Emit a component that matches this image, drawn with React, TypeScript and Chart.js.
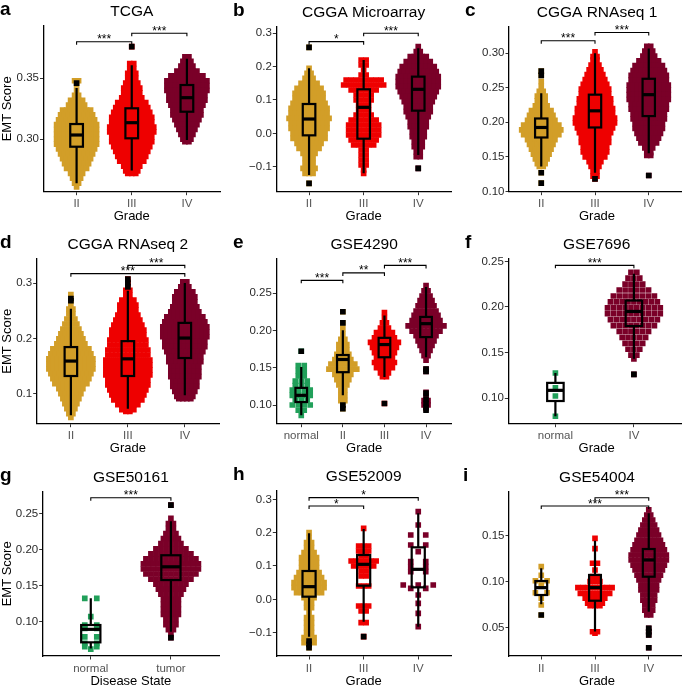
import React, { useEffect, useRef } from "react";
import { Chart, registerables } from "chart.js";

Chart.register(...registerables);

const FONT = "'Liberation Sans', Arial, Helvetica, sans-serif";
Chart.defaults.font.family = FONT;

const GOLD = "#D29E28";
const RED = "#EE0000";
const MAROON = "#7A0028";
const GREEN = "#21A05A";

type Row = [number, number]; // [score, number of points in that swarm row]
type Box = [number, number, number, number, number]; // whisker low, q1, median, q3, whisker high
type Bracket = [number, number, number, string]; // from category, to category, height, label

// ---------- a: TCGA ----------
const tcgaCats = ["II", "III", "IV"];
const tcgaTicks = [0.3, 0.35];
const tcgaII: Row[] = [[0.348,2],[0.3445,1],[0.340,1],[0.336,2],[0.332,4],[0.328,5],[0.324,8],[0.320,9],[0.316,10],[0.312,11],[0.308,11],[0.304,11],[0.300,11],[0.296,11],[0.292,10],[0.288,9],[0.284,8],[0.280,7],[0.276,6],[0.272,4],[0.268,3],[0.264,2],[0.261,1]];
const tcgaIII: Row[] = [[0.376,1],[0.362,2],[0.358,2],[0.354,3],[0.350,3],[0.346,4],[0.342,5],[0.338,5],[0.334,6],[0.330,8],[0.326,9],[0.322,10],[0.318,11],[0.314,11],[0.310,12],[0.306,12],[0.302,11],[0.298,11],[0.294,10],[0.290,9],[0.286,8],[0.282,7],[0.278,5],[0.274,4],[0.272,3]];
const tcgaIV: Row[] = [[0.3677,2],[0.364,3],[0.360,4],[0.356,6],[0.352,9],[0.348,11],[0.344,11],[0.340,11],[0.336,10],[0.332,10],[0.328,9],[0.324,8],[0.320,8],[0.316,7],[0.312,6],[0.308,5],[0.304,4],[0.300,3],[0.298,2]];
const tcgaBoxes: Box[] = [[0.2639,0.2939,0.3035,0.3125,0.342],[0.2743,0.3008,0.3136,0.3254,0.3607],[0.2994,0.3226,0.3341,0.3445,0.366]];
const tcgaOutliers: number[][] = [[0.346],[0.376],[]];
const tcgaBrackets: Bracket[] = [[1,2,0.380,"***"],[2,3,0.3869,"***"]];

// ---------- b: CGGA Microarray ----------
const cgmCats = ["II", "III", "IV"];
const cgmTicks = [-0.1, 0, 0.1, 0.2, 0.3];
const cgmII: Row[] = [[0.258,1],[0.195,1],[0.18,2],[0.165,3],[0.15,5],[0.135,7],[0.12,8],[0.105,8],[0.09,9],[0.075,10],[0.06,10],[0.045,11],[0.03,10],[0.015,10],[0,9],[-0.015,9],[-0.03,7],[-0.045,6],[-0.06,4],[-0.075,3],[-0.09,3],[-0.105,4],[-0.12,3],[-0.15,1]];
const cgmIII: Row[] = [[0.22,2],[0.205,2],[0.19,1],[0.175,2],[0.16,8],[0.145,9],[0.13,6],[0.115,4],[0.1,4],[0.085,3],[0.07,3],[0.055,4],[0.04,6],[0.025,7],[0.01,7],[-0.005,7],[-0.02,6],[-0.035,5],[-0.05,2],[-0.065,2],[-0.08,2],[-0.095,2],[-0.11,1],[-0.12,1]];
const cgmIV: Row[] = [[0.26,1],[0.245,2],[0.23,5],[0.215,7],[0.2,9],[0.185,10],[0.17,11],[0.155,11],[0.14,11],[0.125,10],[0.11,9],[0.095,8],[0.08,7],[0.065,7],[0.05,6],[0.035,5],[0.02,5],[0.005,4],[-0.01,4],[-0.025,3],[-0.04,3],[-0.055,2],[-0.07,2],[-0.105,1]];
const cgmBoxes: Box[] = [[-0.125,-0.006,0.043,0.088,0.195],[-0.12,-0.016,0.078,0.132,0.22],[-0.065,0.068,0.132,0.17,0.255]];
const cgmOutliers: number[][] = [[0.258,-0.15],[],[-0.105]];
const cgmBrackets: Bracket[] = [[1,2,0.275,"*"],[2,3,0.30,"***"]];

// ---------- c: CGGA RNAseq 1 ----------
const cr1Cats = ["II", "III", "IV"];
const cr1Ticks = [0.1, 0.15, 0.2, 0.25, 0.3];
const cr1II: Row[] = [[0.274,1],[0.268,1],[0.259,1],[0.252,1],[0.245,2],[0.238,3],[0.231,3],[0.224,4],[0.217,6],[0.210,7],[0.203,8],[0.196,10],[0.189,11],[0.182,10],[0.175,8],[0.168,7],[0.161,6],[0.154,5],[0.147,4],[0.140,3],[0.136,2],[0.127,1],[0.112,1]];
const cr1III: Row[] = [[0.302,1],[0.295,2],[0.290,2],[0.283,3],[0.276,4],[0.269,5],[0.262,6],[0.255,7],[0.248,8],[0.241,8],[0.234,9],[0.227,9],[0.220,10],[0.213,10],[0.206,11],[0.199,11],[0.192,10],[0.185,9],[0.178,8],[0.171,8],[0.164,7],[0.157,7],[0.150,6],[0.143,4],[0.136,3],[0.129,2],[0.122,2],[0.118,1]];
const cr1IV: Row[] = [[0.310,2],[0.303,3],[0.296,4],[0.289,6],[0.282,8],[0.275,9],[0.268,10],[0.261,10],[0.254,11],[0.247,11],[0.240,11],[0.233,11],[0.226,10],[0.219,10],[0.212,9],[0.205,9],[0.198,8],[0.191,8],[0.184,7],[0.177,6],[0.170,5],[0.163,3],[0.156,2],[0.152,2],[0.123,1]];
const cr1Boxes: Box[] = [[0.136,0.178,0.1925,0.2055,0.242],[0.127,0.1925,0.2166,0.24,0.30],[0.155,0.209,0.24,0.263,0.307]];
const cr1Outliers: number[][] = [[0.274,0.268,0.127,0.112],[0.118],[0.123]];
const cr1Brackets: Bracket[] = [[1,2,0.318,"***"],[2,3,0.330,"***"]];

// ---------- d: CGGA RNAseq 2 ----------
const cr2Cats = ["II", "III", "IV"];
const cr2Ticks = [0.1, 0.2, 0.3];
const cr2II: Row[] = [[0.279,1],[0.272,1],[0.268,1],[0.262,1],[0.253,2],[0.244,2],[0.235,3],[0.226,4],[0.217,5],[0.208,6],[0.199,7],[0.190,8],[0.181,10],[0.172,11],[0.163,12],[0.154,12],[0.145,12],[0.136,11],[0.127,10],[0.118,9],[0.109,7],[0.100,6],[0.091,5],[0.082,4],[0.073,3],[0.064,2],[0.057,1]];
const cr2III: Row[] = [[0.307,1],[0.302,1],[0.298,1],[0.290,1],[0.287,2],[0.278,2],[0.269,4],[0.260,5],[0.251,5],[0.242,6],[0.233,7],[0.224,8],[0.215,9],[0.206,9],[0.197,10],[0.188,10],[0.179,11],[0.170,11],[0.161,12],[0.152,12],[0.143,12],[0.134,12],[0.125,11],[0.116,11],[0.107,10],[0.098,9],[0.089,8],[0.080,6],[0.071,4],[0.068,2]];
const cr2IV: Row[] = [[0.302,2],[0.293,3],[0.284,5],[0.275,6],[0.266,6],[0.257,7],[0.248,8],[0.239,10],[0.230,11],[0.221,12],[0.212,12],[0.203,12],[0.194,11],[0.185,11],[0.176,10],[0.167,9],[0.158,9],[0.149,8],[0.140,8],[0.131,8],[0.122,7],[0.113,7],[0.104,6],[0.095,5],[0.091,4]];
const cr2Boxes: Box[] = [[0.061,0.132,0.159,0.1843,0.2536],[0.073,0.132,0.163,0.195,0.286],[0.097,0.1645,0.2006,0.228,0.30]];
const cr2Outliers: number[][] = [[0.272,0.268],[0.307,0.300,0.293],[]];
const cr2Brackets: Bracket[] = [[1,3,0.317,"***"],[2,3,0.332,"***"]];

// ---------- e: GSE4290 ----------
const g4290Cats = ["normal", "II", "III", "IV"];
const g4290Ticks = [0.1, 0.15, 0.2, 0.25];
const g4290N: Row[] = [[0.172,1],[0.153,2],[0.146,2],[0.139,2],[0.132,3],[0.126,3],[0.120,4],[0.113,4],[0.107,3],[0.100,4],[0.093,2],[0.086,1]];
const g4290II: Row[] = [[0.225,1],[0.21,1],[0.202,1],[0.195,1],[0.188,2],[0.181,3],[0.174,3],[0.168,4],[0.161,5],[0.155,7],[0.148,8],[0.141,5],[0.134,4],[0.127,3],[0.12,2],[0.113,2],[0.106,2],[0.1,1],[0.095,1]];
const g4290III: Row[] = [[0.224,1],[0.217,1],[0.21,2],[0.203,3],[0.197,5],[0.19,6],[0.184,8],[0.177,7],[0.17,6],[0.164,5],[0.157,6],[0.15,5],[0.143,3],[0.138,2],[0.102,1]];
const g4290IV: Row[] = [[0.26,1],[0.253,2],[0.246,3],[0.24,4],[0.233,5],[0.226,6],[0.22,7],[0.213,8],[0.206,10],[0.199,8],[0.193,6],[0.186,5],[0.18,4],[0.173,3],[0.166,2],[0.16,1],[0.148,1],[0.145,1],[0.117,1],[0.112,1],[0.106,2],[0.1,2],[0.095,1]];
const g4290Boxes: Box[] = [[0.0862,0.104,0.113,0.123,0.151],[0.113,0.144,0.161,0.1670,0.2],[0.1375,0.164,0.181,0.19,0.22],[0.164,0.191,0.209,0.218,0.258]];
const g4290Outliers: number[][] = [[0.172],[0.225,0.21,0.1,0.095],[0.102],[0.148,0.145,0.116,0.108,0.102,0.097,0.093]];
const g4290Brackets: Bracket[] = [[1,2,0.267,"***"],[2,3,0.277,"**"],[3,4,0.287,"***"]];

// ---------- f: GSE7696 ----------
const g7696Cats = ["normal", "IV"];
const g7696Ticks = [0.1, 0.15, 0.2, 0.25];
const g7696N: Row[] = [[0.1274,1],[0.1113,1],[0.1022,1],[0.080,1]];
const g7696IV: Row[] = [[0.238,2],[0.2315,3],[0.225,4],[0.2185,6],[0.212,8],[0.2055,9],[0.199,10],[0.1925,10],[0.186,9],[0.1795,8],[0.173,6],[0.1665,5],[0.16,4],[0.1535,3],[0.147,2],[0.143,1],[0.126,1]];
const g7696Boxes: Box[] = [[0.080,0.0967,0.1084,0.1166,0.1274],[0.143,0.179,0.195,0.207,0.2365]];
const g7696Outliers: number[][] = [[],[0.126]];
const g7696Brackets: Bracket[] = [[1,2,0.2456,"***"]];

// ---------- g: GSE50161 ----------
const g50161Cats = ["normal", "tumor"];
const g50161Ticks = [0.1, 0.15, 0.2, 0.25];
const g50161N: Row[] = [[0.1323,2],[0.107,1],[0.0954,2],[0.0908,2],[0.079,2],[0.070,2],[0.0654,2],[0.062,1]];
const g50161T: Row[] = [[0.2615,1],[0.243,1],[0.236,2],[0.229,2],[0.222,3],[0.215,4],[0.208,5],[0.201,7],[0.194,9],[0.187,11],[0.180,12],[0.173,12],[0.166,11],[0.159,9],[0.152,7],[0.145,6],[0.138,5],[0.131,4],[0.124,4],[0.117,4],[0.110,4],[0.103,3],[0.096,3],[0.089,2],[0.082,1],[0.078,1]];
const g50161Boxes: Box[] = [[0.063,0.0714,0.0894,0.0954,0.1323],[0.0862,0.1577,0.176,0.192,0.239]];
const g50161Outliers: number[][] = [[],[0.2615,0.078]];
const g50161Brackets: Bracket[] = [[1,2,0.2717,"***"]];

// ---------- h: GSE52009 ----------
const g52009Cats = ["II", "III", "IV"];
const g52009Ticks = [-0.1, 0, 0.1, 0.2, 0.3];
const g52009II: Row[] = [[0.2,1],[0.185,1],[0.17,2],[0.155,2],[0.14,3],[0.125,4],[0.11,4],[0.095,4],[0.08,5],[0.065,6],[0.05,7],[0.035,7],[0.02,6],[0.005,3],[-0.01,2],[-0.025,2],[-0.04,1],[-0.055,2],[-0.07,2],[-0.085,2],[-0.1,2],[-0.115,3],[-0.13,3],[-0.145,1]];
const g52009III: Row[] = [[0.213,1],[0.16,3],[0.145,3],[0.13,2],[0.115,6],[0.1,5],[0.085,2],[0.07,2],[0.04,3],[-0.02,3],[-0.035,2],[-0.07,2],[-0.112,1]];
const g52009IV: Row[] = [[0.263,1],[0.223,1],[0.193,2],[0.163,2],[0.143,1],[0.113,2],[0.098,2],[0.083,2],[0.043,3],[0.033,2],[0.013,1],[-0.012,1],[-0.042,1],[-0.082,1]];
const g52009Boxes: Box[] = [[-0.112,0.008,0.038,0.085,0.198],[-0.067,0.041,0.105,0.133,0.211],[-0.082,0.036,0.09,0.156,0.258]];
const g52009Outliers: number[][] = [[-0.125,-0.135,-0.145],[-0.112],[]];
const g52009Brackets: Bracket[] = [[1,2,0.28,"*"],[1,3,0.305,"*"]];

// ---------- i: GSE54004 ----------
const g54004Cats = ["II", "III", "IV"];
const g54004Ticks = [0.05, 0.1, 0.15];
const g54004II: Row[] = [[0.1163,1],[0.107,1],[0.101,2],[0.0964,1],[0.088,2],[0.082,1],[0.0746,1],[0.0638,1]];
const g54004III: Row[] = [[0.147,1],[0.136,1],[0.12,2],[0.1127,1],[0.1055,2],[0.10,3],[0.0935,8],[0.0873,7],[0.082,5],[0.0765,4],[0.074,3],[0.0456,2],[0.044,1]];
const g54004IV: Row[] = [[0.178,1],[0.1725,2],[0.167,3],[0.1616,4],[0.156,5],[0.1507,6],[0.145,7],[0.14,8],[0.1345,9],[0.129,10],[0.1236,10],[0.118,9],[0.1127,8],[0.107,7],[0.1018,6],[0.0964,5],[0.091,5],[0.0855,4],[0.08,4],[0.0746,3],[0.069,3],[0.0638,2],[0.0493,1],[0.0457,1],[0.042,1],[0.0282,1]];
const g54004Boxes: Box[] = [[0.0754,0.0855,0.0935,0.1007,0.1145],[0.0457,0.0793,0.0935,0.1073,0.1445],[0.0674,0.1054,0.1236,0.1355,0.1743]];
const g54004Outliers: number[][] = [[0.0638],[],[0.0493,0.0457,0.042,0.0282]];
const g54004Brackets: Bracket[] = [[1,3,0.1822,"***"],[2,3,0.1913,"***"]];

// ---------------------------------------------------------------
interface Group { rows: Row[]; box: Box; out: number[]; color: string; gap: number }
interface Panel {
  letter: string; title: string; cats: string[]; xTitle: string; yTitle: string;
  ticks: number[]; digits: number; yMin: number; yMax: number;
  groups: Group[]; brackets: Bracket[];
  cv: [number, number, number, number]; // canvas x, y, w, h
  plot: [number, number, number, number]; // left, top, right, bottom (page px)
  boxW: number; letterX: number;
}

const COLS: [number, number][] = [[0, 228], [228, 227], [455, 230]];
const ROWS: [number, number][] = [[0, 224], [224, 231], [455, 231]];

function grp(rows: Row[], box: Box, out: number[], color: string, gap: number): Group {
  return { rows, box, out, color, gap };
}

const panels: Panel[] = [
  { letter: "a", title: "TCGA", cats: tcgaCats, xTitle: "Grade", yTitle: "EMT Score", ticks: tcgaTicks, digits: 2, yMin: 0.257, yMax: 0.3929,
    groups: [grp(tcgaII, tcgaBoxes[0], tcgaOutliers[0], GOLD, 4), grp(tcgaIII, tcgaBoxes[1], tcgaOutliers[1], RED, 4), grp(tcgaIV, tcgaBoxes[2], tcgaOutliers[2], MAROON, 4)],
    brackets: tcgaBrackets, cv: [COLS[0][0], ROWS[0][0], COLS[0][1], ROWS[0][1]], plot: [43.5, 26, 220, 191.7], boxW: 0.23, letterX: 0 },
  { letter: "b", title: "CGGA Microarray", cats: cgmCats, xTitle: "Grade", yTitle: "", ticks: cgmTicks, digits: 1, yMin: -0.175, yMax: 0.3204,
    groups: [grp(cgmII, cgmBoxes[0], cgmOutliers[0], GOLD, 4), grp(cgmIII, cgmBoxes[1], cgmOutliers[1], RED, 5), grp(cgmIV, cgmBoxes[2], cgmOutliers[2], MAROON, 4)],
    brackets: cgmBrackets, cv: [COLS[1][0], ROWS[0][0], COLS[1][1], ROWS[0][1]], plot: [276.3, 26.5, 451, 191.7], boxW: 0.23, letterX: 5 },
  { letter: "c", title: "CGGA RNAseq 1", cats: cr1Cats, xTitle: "Grade", yTitle: "", ticks: cr1Ticks, digits: 2, yMin: 0.0995, yMax: 0.3387,
    groups: [grp(cr1II, cr1Boxes[0], cr1Outliers[0], GOLD, 4), grp(cr1III, cr1Boxes[1], cr1Outliers[1], RED, 4), grp(cr1IV, cr1Boxes[2], cr1Outliers[2], MAROON, 4)],
    brackets: cr1Brackets, cv: [COLS[2][0], ROWS[0][0], COLS[2][1], ROWS[0][1]], plot: [509, 26.5, 685, 191.7], boxW: 0.23, letterX: 10 },
  { letter: "d", title: "CGGA RNAseq 2", cats: cr2Cats, xTitle: "Grade", yTitle: "EMT Score", ticks: cr2Ticks, digits: 1, yMin: 0.0458, yMax: 0.344,
    groups: [grp(cr2II, cr2Boxes[0], cr2Outliers[0], GOLD, 4), grp(cr2III, cr2Boxes[1], cr2Outliers[1], RED, 4), grp(cr2IV, cr2Boxes[2], cr2Outliers[2], MAROON, 4)],
    brackets: cr2Brackets, cv: [COLS[0][0], ROWS[1][0], COLS[0][1], ROWS[1][1]], plot: [36.7, 258.7, 219, 423.7], boxW: 0.22, letterX: 0 },
  { letter: "e", title: "GSE4290", cats: g4290Cats, xTitle: "Grade", yTitle: "", ticks: g4290Ticks, digits: 2, yMin: 0.075, yMax: 0.296,
    groups: [grp(g4290N, g4290Boxes[0], g4290Outliers[0], GREEN, 6), grp(g4290II, g4290Boxes[1], g4290Outliers[1], GOLD, 4), grp(g4290III, g4290Boxes[2], g4290Outliers[2], RED, 4), grp(g4290IV, g4290Boxes[3], g4290Outliers[3], MAROON, 4)],
    brackets: g4290Brackets, cv: [COLS[1][0], ROWS[1][0], COLS[1][1], ROWS[1][1]], plot: [276.3, 258.7, 452, 423.7], boxW: 0.28, letterX: 5 },
  { letter: "f", title: "GSE7696", cats: g7696Cats, xTitle: "Grade", yTitle: "", ticks: g7696Ticks, digits: 2, yMin: 0.0718, yMax: 0.2529,
    groups: [grp(g7696N, g7696Boxes[0], g7696Outliers[0], GREEN, 6), grp(g7696IV, g7696Boxes[1], g7696Outliers[1], MAROON, 6)],
    brackets: g7696Brackets, cv: [COLS[2][0], ROWS[1][0], COLS[2][1], ROWS[1][1]], plot: [508.3, 258.7, 685, 423.7], boxW: 0.21, letterX: 10 },
  { letter: "g", title: "GSE50161", cats: g50161Cats, xTitle: "Disease State", yTitle: "EMT Score", ticks: g50161Ticks, digits: 2, yMin: 0.0525, yMax: 0.280,
    groups: [grp(g50161N, g50161Boxes[0], g50161Outliers[0], GREEN, 12), grp(g50161T, g50161Boxes[1], g50161Outliers[1], MAROON, 5)],
    brackets: g50161Brackets, cv: [COLS[0][0], ROWS[2][0], COLS[0][1], ROWS[2][1]], plot: [42.7, 491.7, 219, 656], boxW: 0.24, letterX: 0 },
  { letter: "h", title: "GSE52009", cats: g52009Cats, xTitle: "Grade", yTitle: "", ticks: g52009Ticks, digits: 1, yMin: -0.17, yMax: 0.325,
    groups: [grp(g52009II, g52009Boxes[0], g52009Outliers[0], GOLD, 5), grp(g52009III, g52009Boxes[1], g52009Outliers[1], RED, 5), grp(g52009IV, g52009Boxes[2], g52009Outliers[2], MAROON, 15)],
    brackets: g52009Brackets, cv: [COLS[1][0], ROWS[2][0], COLS[1][1], ROWS[2][1]], plot: [276.3, 491, 451, 656], boxW: 0.24, letterX: 5 },
  { letter: "i", title: "GSE54004", cats: g54004Cats, xTitle: "Grade", yTitle: "", ticks: g54004Ticks, digits: 2, yMin: 0.0192, yMax: 0.1978,
    groups: [grp(g54004II, g54004Boxes[0], g54004Outliers[0], GOLD, 12), grp(g54004III, g54004Boxes[1], g54004Outliers[1], RED, 5), grp(g54004IV, g54004Boxes[2], g54004Outliers[2], MAROON, 4)],
    brackets: g54004Brackets, cv: [COLS[2][0], ROWS[2][0], COLS[2][1], ROWS[2][1]], plot: [509, 491.7, 685, 656], boxW: 0.22, letterX: 8 },
];

const PT_R = 4;

function decoPlugin(p: Panel) {
  const ox = p.cv[0];
  const oy = p.cv[1];
  return {
    id: "deco_" + p.letter,
    beforeDatasetDraw(chart: any, args: any) {
      if (args.index !== 0) return;
      const ctx = chart.ctx;
      const xs = chart.scales.x;
      const ys = chart.scales.y;
      ctx.save();
      ctx.strokeStyle = "#000";
      ctx.lineCap = "butt";
      p.groups.forEach((g, i) => {
        const c = xs.getPixelForValue(i + 1);
        const hw = xs.getPixelForValue(i + 1 + p.boxW / 2) - c;
        const [mn, q1, md, q3, mx] = g.box.map((v) => ys.getPixelForValue(v));
        ctx.lineWidth = 2.2;
        ctx.beginPath();
        ctx.moveTo(c, mx); ctx.lineTo(c, q3);
        ctx.moveTo(c, q1); ctx.lineTo(c, mn);
        ctx.stroke();
        ctx.strokeRect(c - hw, q3, 2 * hw, q1 - q3);
        ctx.lineWidth = 3.2;
        ctx.beginPath();
        ctx.moveTo(c - hw, md); ctx.lineTo(c + hw, md);
        ctx.stroke();
      });
      ctx.restore();
    },
    afterDraw(chart: any) {
      const ctx = chart.ctx;
      const xs = chart.scales.x;
      const ys = chart.scales.y;
      const pl = p.plot[0] - ox, pt = p.plot[1] - oy, pr = p.plot[2] - ox, pb = p.plot[3] - oy;
      ctx.save();
      // significance brackets
      ctx.strokeStyle = "#000";
      ctx.fillStyle = "#000";
      ctx.lineWidth = 1.1;
      ctx.font = `12px ${FONT}`;
      ctx.textAlign = "center";
      ctx.textBaseline = "alphabetic";
      p.brackets.forEach(([a, b, h, lab]) => {
        const x1 = xs.getPixelForValue(a), x2 = xs.getPixelForValue(b), y = ys.getPixelForValue(h);
        ctx.beginPath();
        ctx.moveTo(x1, y + 3); ctx.lineTo(x1, y); ctx.lineTo(x2, y); ctx.lineTo(x2, y + 3);
        ctx.stroke();
        ctx.fillText(lab, (x1 + x2) / 2, y + 1.5);
      });
      // panel letter
      ctx.textAlign = "left";
      ctx.font = `bold 19px ${FONT}`;
      ctx.fillText(p.letter, p.letterX, pt - 11);
      // title
      ctx.textAlign = "center";
      ctx.font = `15.5px ${FONT}`;
      ctx.fillText(p.title, (pl + pr) / 2, pt - 10);
      // x title
      ctx.font = `13px ${FONT}`;
      ctx.textBaseline = "middle";
      ctx.fillText(p.xTitle, (pl + pr) / 2, pb + 25);
      // y title
      if (p.yTitle) {
        ctx.translate(7, (pt + pb) / 2);
        ctx.rotate(-Math.PI / 2);
        ctx.fillText(p.yTitle, 0, 0);
      }
      ctx.restore();
    },
  };
}

function fmt(v: number, d: number) {
  const s = Number(v).toFixed(d);
  return s.startsWith("-") ? "\u2212" + s.slice(1) : s;
}

function buildChart(canvas: HTMLCanvasElement, p: Panel) {
  const [cx, cy, cw, ch] = p.cv;
  const [pl, pt, pr, pb] = p.plot;
  const xMin = 0.4;
  const xMax = p.cats.length + 0.6;
  const unitPerPx = (xMax - xMin) / (pr - pl);

  const outPts: { x: number; y: number }[] = [];
  p.groups.forEach((g, i) => g.out.forEach((v) => outPts.push({ x: i + 1, y: v })));
  const datasets: any[] = [
    { data: outPts, pointBackgroundColor: "#000", pointRadius: PT_R, pointHoverRadius: PT_R, pointStyle: "rect", pointBorderWidth: 0 },
  ];
  p.groups.forEach((g, i) => {
    const pts: { x: number; y: number }[] = [];
    g.rows.forEach(([v, n]) => {
      for (let j = 0; j < n; j++) pts.push({ x: i + 1 + (j - (n - 1) / 2) * g.gap * unitPerPx, y: v });
    });
    datasets.push({ data: pts, pointBackgroundColor: g.color, pointRadius: PT_R, pointHoverRadius: PT_R, pointStyle: "rect", pointBorderWidth: 0 });
  });

  const tickFont = { size: 11.5, family: FONT };
  return new Chart(canvas, {
    type: "scatter",
    data: { datasets },
    options: {
      animation: false,
      responsive: false,
      maintainAspectRatio: false,
      devicePixelRatio: 1,
      events: [],
      layout: { padding: { left: 0, top: pt - cy, right: cx + cw - pr, bottom: 0 } },
      plugins: { legend: { display: false }, tooltip: { enabled: false }, title: { display: false } },
      scales: {
        x: {
          type: "linear",
          min: xMin,
          max: xMax,
          afterBuildTicks: (s: any) => { s.ticks = p.cats.map((_, i) => ({ value: i + 1 })); },
          afterFit: (s: any) => { s.height = cy + ch - pb; },
          ticks: { callback: (v: any) => p.cats[Math.round(Number(v)) - 1] ?? "", font: tickFont, color: "#555", padding: 2, maxRotation: 0, minRotation: 0, autoSkip: false },
          grid: { drawOnChartArea: false, drawTicks: true, tickLength: 3.5, color: "#333", lineWidth: 1 },
          border: { display: true, color: "#000", width: 1.3 },
        },
        y: {
          type: "linear",
          min: p.yMin,
          max: p.yMax,
          afterBuildTicks: (s: any) => { s.ticks = p.ticks.map((v) => ({ value: v })); },
          afterFit: (s: any) => { s.width = pl - cx; },
          ticks: { callback: (v: any) => fmt(Number(v), p.digits), font: tickFont, color: "#2a2a2a", padding: 1, autoSkip: false },
          grid: { drawOnChartArea: false, drawTicks: true, tickLength: 3.5, color: "#333", lineWidth: 1 },
          border: { display: true, color: "#000", width: 1.3 },
        },
      },
    } as any,
    plugins: [decoPlugin(p)],
  });
}

export default function App() {
  const refs = useRef<(HTMLCanvasElement | null)[]>([]);
  useEffect(() => {
    document.body.style.margin = "0";
    const charts = panels.map((p, i) => buildChart(refs.current[i] as HTMLCanvasElement, p));
    return () => charts.forEach((c) => c.destroy());
  }, []);
  return (
    <div style={{ position: "absolute", left: 0, top: 0, width: 685, height: 686, background: "#fff", overflow: "hidden" }}>
      {panels.map((p, i) => (
        <canvas
          key={p.letter}
          ref={(el) => { refs.current[i] = el; }}
          width={p.cv[2]}
          height={p.cv[3]}
          style={{ position: "absolute", left: p.cv[0], top: p.cv[1], width: p.cv[2], height: p.cv[3] }}
        />
      ))}
    </div>
  );
}
